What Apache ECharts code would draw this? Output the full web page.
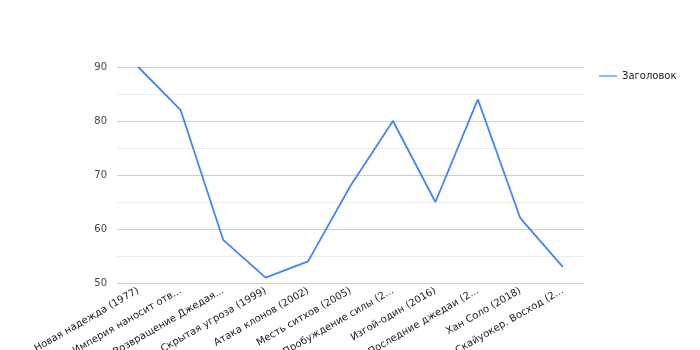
<!DOCTYPE html>
<html><head><meta charset="utf-8">
<script src="https://cdn.jsdelivr.net/npm/echarts@6/dist/echarts.min.js"></script>
<style>html,body{margin:0;padding:0;background:#fff}#c{width:700px;height:350px}</style>
</head><body><div id="c"></div>
<script>
const categories = [
  "Новая надежда (1977)",
  "Империя наносит отв...",
  "Возвращение Джедая...",
  "Скрытая угроза (1999)",
  "Атака клонов (2002)",
  "Месть ситхов (2005)",
  "Пробуждение силы (2...",
  "Изгой-один (2016)",
  "Последние джедаи (2...",
  "Хан Соло (2018)",
  "Скайуокер. Восход (2..."
];
const seriesName = "Заголовок";
const values = [90, 82, 58, 51, 54, 68, 80, 65, 84, 62, 53];
const yTicks = [50, 60, 70, 80, 90];

const chart = echarts.init(document.getElementById('c'), null, {renderer: 'canvas'});
chart.setOption({
  animation: false,
  textStyle: {fontFamily: 'DejaVu Sans'},
  legend: {
    left: 594, top: 66, orient: 'vertical',
    icon: 'path://M0,0 L30,0 L30,2 L0,2 Z',
    itemWidth: 18, itemHeight: 2, itemGap: 5,
    textStyle: {color: '#222', fontSize: 10, fontFamily: 'DejaVu Sans'},
    data: [seriesName]
  },
  grid: {left: 117, right: 116, top: 67, bottom: 67, containLabel: false, outerBoundsMode: 'none'},
  xAxis: {
    type: 'category', data: categories, boundaryGap: true,
    axisLine: {show: false}, axisTick: {show: false},
    axisLabel: {rotate: 30, fontSize: 10, color: '#222', margin: 7, interval: 0, fontFamily: 'DejaVu Sans'}
  },
  yAxis: {
    type: 'value', min: yTicks[0], max: yTicks[yTicks.length - 1], interval: 10,
    axisLine: {show: false}, axisTick: {show: false},
    axisLabel: {fontSize: 10, color: '#444', margin: 10, fontFamily: 'DejaVu Sans'},
    splitLine: {lineStyle: {color: '#cccccc'}},
    minorTick: {show: false, splitNumber: 2},
    minorSplitLine: {show: true, lineStyle: {color: '#ebebeb'}}
  },
  series: [{
    name: seriesName, type: 'line', data: values,
    showSymbol: false, symbol: 'none',
    lineStyle: {color: '#4285f4', width: 1.8},
    itemStyle: {color: '#4285f4'}
  }]
});
</script></body></html>
